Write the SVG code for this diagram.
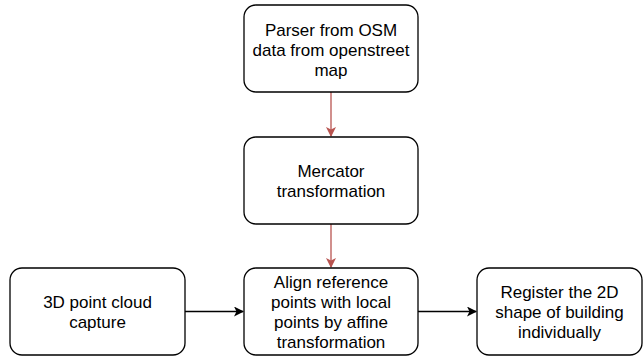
<svg xmlns="http://www.w3.org/2000/svg" width="644" height="358" viewBox="0 0 644 358">
  <defs>
    <style>
      .box { fill: #ffffff; stroke: #000000; stroke-width: 1.3; }
      .lbl { font-family: "Liberation Sans", Arial, Helvetica, sans-serif; font-size: 17px; fill: #000000; text-anchor: middle; }
      .red { stroke: #b85450; stroke-width: 1.3; fill: none; }
      .blk { stroke: #000000; stroke-width: 1.3; fill: none; }
    </style>
    <marker id="arrRed" viewBox="0 0 10 10" refX="9" refY="5" markerWidth="10" markerHeight="10" markerUnits="userSpaceOnUse" orient="auto">
      <path d="M0,0 L10,5 L0,10 L2.5,5 Z" fill="#b85450"/>
    </marker>
    <marker id="arrBlk" viewBox="0 0 10 10" refX="9" refY="5" markerWidth="10" markerHeight="10" markerUnits="userSpaceOnUse" orient="auto">
      <path d="M0,0 L10,5 L0,10 L2.5,5 Z" fill="#000000"/>
    </marker>
  </defs>
  <rect width="644" height="358" fill="#ffffff"/>

  <g id="connectors">
    <path class="red" d="M331,92 L331,136" marker-end="url(#arrRed)"/>
    <path class="red" d="M331,224 L331,267" marker-end="url(#arrRed)"/>
    <path class="blk" d="M185,311.5 L243,311.5" marker-end="url(#arrBlk)"/>
    <path class="blk" d="M418,311.5 L476,311.5" marker-end="url(#arrBlk)"/>
  </g>

  <g id="parser">
    <rect class="box" x="244" y="5" width="174" height="87" rx="12"/>
    <text class="lbl" x="331" y="36">Parser from OSM</text>
    <text class="lbl" x="331" y="56">data from openstreet</text>
    <text class="lbl" x="331" y="76">map</text>
  </g>

  <g id="mercator">
    <rect class="box" x="244" y="137" width="174" height="87" rx="12"/>
    <text class="lbl" x="331" y="177">Mercator</text>
    <text class="lbl" x="331" y="197">transformation</text>
  </g>

  <g id="capture">
    <rect class="box" x="10" y="268" width="175" height="87" rx="12"/>
    <text class="lbl" x="97.5" y="308">3D point cloud</text>
    <text class="lbl" x="97.5" y="328">capture</text>
  </g>

  <g id="align">
    <rect class="box" x="244" y="268" width="174" height="87" rx="12"/>
    <text class="lbl" x="331" y="288">Align reference</text>
    <text class="lbl" x="331" y="308">points with local</text>
    <text class="lbl" x="331" y="328">points by affine</text>
    <text class="lbl" x="331" y="348">transformation</text>
  </g>

  <g id="register">
    <rect class="box" x="477" y="268" width="165" height="87" rx="12"/>
    <text class="lbl" x="559.5" y="298">Register the 2D</text>
    <text class="lbl" x="559.5" y="318">shape of building</text>
    <text class="lbl" x="559.5" y="338">individually</text>
  </g>
</svg>
